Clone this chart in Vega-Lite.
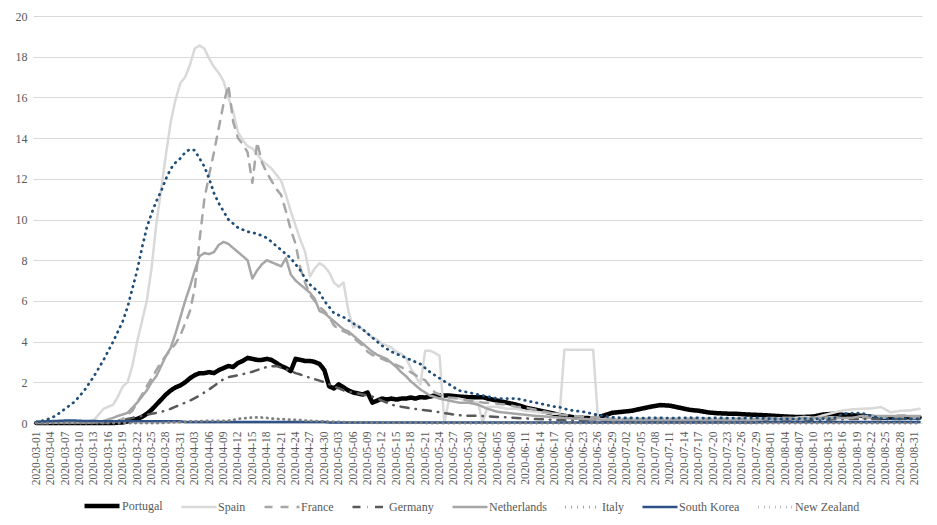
{
  "$schema": "https://vega.github.io/schema/vega-lite/v6.json",
  "autosize": "none",
  "width": 889,
  "height": 407,
  "padding": {"left": 33, "top": 16, "right": 15, "bottom": 102},
  "background": "white",
  "config": {
    "font": "Times New Roman",
    "axis": {"labelFont": "Times New Roman"},
    "legend": {"labelFont": "Times New Roman"},
    "view": {"stroke": null}
  },
  "data": {
    "values": [
      {"d":"2020-03-01","Portugal":0,"Spain":0,"France":0.02,"Germany":0.02,"Netherlands":0.02,"Italy":0.05,"South Korea":0.05,"New Zealand":0},
      {"d":"2020-03-03","Portugal":0,"Spain":0,"France":0.02,"Germany":0.02,"Netherlands":0.02,"Italy":0.15,"South Korea":0.08,"New Zealand":0},
      {"d":"2020-03-05","Portugal":0,"Spain":0.02,"France":0.02,"Germany":0.02,"Netherlands":0.02,"Italy":0.35,"South Korea":0.1,"New Zealand":0},
      {"d":"2020-03-07","Portugal":0,"Spain":0.03,"France":0.02,"Germany":0.02,"Netherlands":0.02,"Italy":0.7,"South Korea":0.12,"New Zealand":0},
      {"d":"2020-03-09","Portugal":0,"Spain":0.05,"France":0.02,"Germany":0.02,"Netherlands":0.02,"Italy":1.05,"South Korea":0.12,"New Zealand":0},
      {"d":"2020-03-11","Portugal":0,"Spain":0.05,"France":0.02,"Germany":0.02,"Netherlands":0.02,"Italy":1.6,"South Korea":0.1,"New Zealand":0},
      {"d":"2020-03-13","Portugal":0,"Spain":0.15,"France":0.02,"Germany":0.02,"Netherlands":0.02,"Italy":2.3,"South Korea":0.1,"New Zealand":0},
      {"d":"2020-03-15","Portugal":0,"Spain":0.7,"France":0.02,"Germany":0.02,"Netherlands":0.1,"Italy":3.1,"South Korea":0.08,"New Zealand":0},
      {"d":"2020-03-17","Portugal":0,"Spain":0.9,"France":0.02,"Germany":0.05,"Netherlands":0.25,"Italy":4.0,"South Korea":0.08,"New Zealand":0},
      {"d":"2020-03-18","Portugal":0.02,"Spain":1.3,"France":0.1,"Germany":0.1,"Netherlands":0.35,"Italy":4.5,"South Korea":0.08,"New Zealand":0},
      {"d":"2020-03-19","Portugal":0.03,"Spain":1.8,"France":0.2,"Germany":0.15,"Netherlands":0.42,"Italy":5.0,"South Korea":0.08,"New Zealand":0},
      {"d":"2020-03-20","Portugal":0.08,"Spain":2.0,"France":0.4,"Germany":0.2,"Netherlands":0.5,"Italy":5.7,"South Korea":0.08,"New Zealand":0},
      {"d":"2020-03-21","Portugal":0.15,"Spain":2.8,"France":0.6,"Germany":0.25,"Netherlands":0.75,"Italy":6.6,"South Korea":0.08,"New Zealand":0},
      {"d":"2020-03-22","Portugal":0.2,"Spain":4.0,"France":1.0,"Germany":0.3,"Netherlands":1.0,"Italy":7.5,"South Korea":0.08,"New Zealand":0},
      {"d":"2020-03-23","Portugal":0.3,"Spain":5.0,"France":1.4,"Germany":0.35,"Netherlands":1.3,"Italy":8.6,"South Korea":0.08,"New Zealand":0},
      {"d":"2020-03-24","Portugal":0.45,"Spain":6.0,"France":1.8,"Germany":0.4,"Netherlands":1.6,"Italy":9.6,"South Korea":0.08,"New Zealand":0},
      {"d":"2020-03-25","Portugal":0.65,"Spain":7.6,"France":2.2,"Germany":0.45,"Netherlands":2.0,"Italy":10.3,"South Korea":0.08,"New Zealand":0},
      {"d":"2020-03-26","Portugal":0.9,"Spain":9.8,"France":2.6,"Germany":0.5,"Netherlands":2.3,"Italy":10.9,"South Korea":0.08,"New Zealand":0},
      {"d":"2020-03-27","Portugal":1.15,"Spain":11.5,"France":3.0,"Germany":0.55,"Netherlands":2.8,"Italy":11.4,"South Korea":0.08,"New Zealand":0},
      {"d":"2020-03-28","Portugal":1.4,"Spain":13.2,"France":3.3,"Germany":0.62,"Netherlands":3.3,"Italy":12.0,"South Korea":0.08,"New Zealand":0.02},
      {"d":"2020-03-29","Portugal":1.6,"Spain":14.8,"France":3.6,"Germany":0.7,"Netherlands":3.7,"Italy":12.5,"South Korea":0.08,"New Zealand":0.03},
      {"d":"2020-03-30","Portugal":1.75,"Spain":15.9,"France":3.9,"Germany":0.8,"Netherlands":4.4,"Italy":12.8,"South Korea":0.08,"New Zealand":0.04},
      {"d":"2020-03-31","Portugal":1.85,"Spain":16.7,"France":4.3,"Germany":0.9,"Netherlands":5.2,"Italy":13.0,"South Korea":0.08,"New Zealand":0.05},
      {"d":"2020-04-01","Portugal":2.0,"Spain":17.0,"France":4.9,"Germany":1.0,"Netherlands":6.0,"Italy":13.3,"South Korea":0.05,"New Zealand":0.06},
      {"d":"2020-04-02","Portugal":2.2,"Spain":17.6,"France":5.5,"Germany":1.1,"Netherlands":6.7,"Italy":13.45,"South Korea":0.05,"New Zealand":0.08},
      {"d":"2020-04-03","Portugal":2.35,"Spain":18.4,"France":6.6,"Germany":1.22,"Netherlands":7.5,"Italy":13.4,"South Korea":0.05,"New Zealand":0.08},
      {"d":"2020-04-04","Portugal":2.45,"Spain":18.55,"France":9.0,"Germany":1.35,"Netherlands":8.2,"Italy":13.0,"South Korea":0.05,"New Zealand":0.09},
      {"d":"2020-04-05","Portugal":2.45,"Spain":18.4,"France":11.0,"Germany":1.5,"Netherlands":8.35,"Italy":12.6,"South Korea":0.05,"New Zealand":0.1},
      {"d":"2020-04-06","Portugal":2.5,"Spain":17.9,"France":12.2,"Germany":1.65,"Netherlands":8.3,"Italy":12.0,"South Korea":0.05,"New Zealand":0.1},
      {"d":"2020-04-07","Portugal":2.45,"Spain":17.5,"France":13.3,"Germany":1.82,"Netherlands":8.4,"Italy":11.3,"South Korea":0.05,"New Zealand":0.1},
      {"d":"2020-04-08","Portugal":2.6,"Spain":17.2,"France":14.5,"Germany":2.0,"Netherlands":8.75,"Italy":10.8,"South Korea":0.05,"New Zealand":0.1},
      {"d":"2020-04-09","Portugal":2.7,"Spain":16.8,"France":15.7,"Germany":2.15,"Netherlands":8.9,"Italy":10.4,"South Korea":0.05,"New Zealand":0.1},
      {"d":"2020-04-10","Portugal":2.8,"Spain":16.0,"France":16.6,"Germany":2.25,"Netherlands":8.8,"Italy":10.0,"South Korea":0.05,"New Zealand":0.12},
      {"d":"2020-04-11","Portugal":2.75,"Spain":15.3,"France":14.8,"Germany":2.3,"Netherlands":8.6,"Italy":9.8,"South Korea":0.05,"New Zealand":0.15},
      {"d":"2020-04-12","Portugal":2.95,"Spain":14.3,"France":14.0,"Germany":2.35,"Netherlands":8.4,"Italy":9.6,"South Korea":0.05,"New Zealand":0.2},
      {"d":"2020-04-13","Portugal":3.05,"Spain":13.9,"France":13.7,"Germany":2.4,"Netherlands":8.2,"Italy":9.5,"South Korea":0.05,"New Zealand":0.23},
      {"d":"2020-04-14","Portugal":3.2,"Spain":13.6,"France":13.3,"Germany":2.45,"Netherlands":8.0,"Italy":9.4,"South Korea":0.05,"New Zealand":0.25},
      {"d":"2020-04-15","Portugal":3.15,"Spain":13.5,"France":11.8,"Germany":2.52,"Netherlands":7.1,"Italy":9.35,"South Korea":0.05,"New Zealand":0.27},
      {"d":"2020-04-16","Portugal":3.1,"Spain":13.2,"France":13.8,"Germany":2.6,"Netherlands":7.5,"Italy":9.3,"South Korea":0.05,"New Zealand":0.28},
      {"d":"2020-04-17","Portugal":3.1,"Spain":12.9,"France":12.8,"Germany":2.68,"Netherlands":7.8,"Italy":9.2,"South Korea":0.05,"New Zealand":0.27},
      {"d":"2020-04-18","Portugal":3.15,"Spain":12.7,"France":12.3,"Germany":2.75,"Netherlands":8.0,"Italy":9.1,"South Korea":0.05,"New Zealand":0.25},
      {"d":"2020-04-19","Portugal":3.1,"Spain":12.5,"France":11.9,"Germany":2.78,"Netherlands":7.9,"Italy":8.9,"South Korea":0.05,"New Zealand":0.22},
      {"d":"2020-04-20","Portugal":2.95,"Spain":12.2,"France":11.5,"Germany":2.8,"Netherlands":7.8,"Italy":8.7,"South Korea":0.05,"New Zealand":0.2},
      {"d":"2020-04-21","Portugal":2.8,"Spain":11.9,"France":11.2,"Germany":2.72,"Netherlands":7.7,"Italy":8.5,"South Korea":0.05,"New Zealand":0.19},
      {"d":"2020-04-22","Portugal":2.7,"Spain":11.2,"France":10.4,"Germany":2.65,"Netherlands":8.1,"Italy":8.3,"South Korea":0.05,"New Zealand":0.18},
      {"d":"2020-04-23","Portugal":2.55,"Spain":10.4,"France":9.5,"Germany":2.55,"Netherlands":7.3,"Italy":8.1,"South Korea":0.05,"New Zealand":0.16},
      {"d":"2020-04-24","Portugal":3.15,"Spain":9.7,"France":8.8,"Germany":2.45,"Netherlands":7.0,"Italy":7.8,"South Korea":0.05,"New Zealand":0.15},
      {"d":"2020-04-25","Portugal":3.1,"Spain":9.0,"France":7.6,"Germany":2.38,"Netherlands":6.8,"Italy":7.5,"South Korea":0.05,"New Zealand":0.14},
      {"d":"2020-04-26","Portugal":3.05,"Spain":8.4,"France":6.9,"Germany":2.3,"Netherlands":6.6,"Italy":7.1,"South Korea":0.05,"New Zealand":0.12},
      {"d":"2020-04-27","Portugal":3.05,"Spain":7.2,"France":6.3,"Germany":2.22,"Netherlands":6.4,"Italy":6.8,"South Korea":0.05,"New Zealand":0.11},
      {"d":"2020-04-28","Portugal":3.0,"Spain":7.6,"France":6.0,"Germany":2.15,"Netherlands":6.1,"Italy":6.6,"South Korea":0.05,"New Zealand":0.1},
      {"d":"2020-04-29","Portugal":2.9,"Spain":7.85,"France":5.7,"Germany":2.08,"Netherlands":5.5,"Italy":6.4,"South Korea":0.05,"New Zealand":0.09},
      {"d":"2020-04-30","Portugal":2.6,"Spain":7.7,"France":5.5,"Germany":2.0,"Netherlands":5.4,"Italy":6.0,"South Korea":0.05,"New Zealand":0.08},
      {"d":"2020-05-01","Portugal":1.8,"Spain":7.4,"France":5.2,"Germany":1.9,"Netherlands":5.2,"Italy":5.7,"South Korea":0.03,"New Zealand":0.07},
      {"d":"2020-05-02","Portugal":1.7,"Spain":6.9,"France":4.8,"Germany":1.8,"Netherlands":5.0,"Italy":5.4,"South Korea":0.03,"New Zealand":0.06},
      {"d":"2020-05-03","Portugal":1.9,"Spain":6.7,"France":4.6,"Germany":1.7,"Netherlands":4.8,"Italy":5.3,"South Korea":0.03,"New Zealand":0.05},
      {"d":"2020-05-04","Portugal":1.75,"Spain":6.9,"France":4.5,"Germany":1.6,"Netherlands":4.6,"Italy":5.2,"South Korea":0.03,"New Zealand":0.04},
      {"d":"2020-05-05","Portugal":1.6,"Spain":5.5,"France":4.4,"Germany":1.55,"Netherlands":4.5,"Italy":5.05,"South Korea":0.03,"New Zealand":0.03},
      {"d":"2020-05-06","Portugal":1.5,"Spain":4.7,"France":4.2,"Germany":1.5,"Netherlands":4.3,"Italy":4.9,"South Korea":0.03,"New Zealand":0.03},
      {"d":"2020-05-07","Portugal":1.45,"Spain":4.8,"France":4.0,"Germany":1.45,"Netherlands":4.1,"Italy":4.75,"South Korea":0.03,"New Zealand":0.02},
      {"d":"2020-05-08","Portugal":1.4,"Spain":4.6,"France":3.8,"Germany":1.4,"Netherlands":3.9,"Italy":4.6,"South Korea":0.03,"New Zealand":0.02},
      {"d":"2020-05-09","Portugal":1.5,"Spain":4.4,"France":3.5,"Germany":1.35,"Netherlands":3.7,"Italy":4.4,"South Korea":0.03,"New Zealand":0.02},
      {"d":"2020-05-10","Portugal":1.0,"Spain":4.2,"France":3.35,"Germany":1.3,"Netherlands":3.5,"Italy":4.2,"South Korea":0.03,"New Zealand":0.01},
      {"d":"2020-05-11","Portugal":1.1,"Spain":4.1,"France":3.25,"Germany":1.2,"Netherlands":3.35,"Italy":4.0,"South Korea":0.03,"New Zealand":0.01},
      {"d":"2020-05-12","Portugal":1.2,"Spain":3.9,"France":3.15,"Germany":1.1,"Netherlands":3.25,"Italy":3.8,"South Korea":0.03,"New Zealand":0.01},
      {"d":"2020-05-13","Portugal":1.15,"Spain":3.8,"France":3.05,"Germany":1.0,"Netherlands":3.15,"Italy":3.65,"South Korea":0.03,"New Zealand":0.01},
      {"d":"2020-05-14","Portugal":1.2,"Spain":3.7,"France":3.0,"Germany":0.9,"Netherlands":2.95,"Italy":3.5,"South Korea":0.03,"New Zealand":0.01},
      {"d":"2020-05-15","Portugal":1.15,"Spain":3.5,"France":2.85,"Germany":0.85,"Netherlands":2.75,"Italy":3.4,"South Korea":0.03,"New Zealand":0.01},
      {"d":"2020-05-16","Portugal":1.2,"Spain":3.4,"France":2.75,"Germany":0.8,"Netherlands":2.5,"Italy":3.3,"South Korea":0.03,"New Zealand":0.01},
      {"d":"2020-05-17","Portugal":1.2,"Spain":3.2,"France":2.6,"Germany":0.76,"Netherlands":2.3,"Italy":3.2,"South Korea":0.03,"New Zealand":0.01},
      {"d":"2020-05-18","Portugal":1.25,"Spain":2.7,"France":2.5,"Germany":0.72,"Netherlands":2.05,"Italy":3.1,"South Korea":0.03,"New Zealand":0.01},
      {"d":"2020-05-19","Portugal":1.2,"Spain":2.3,"France":2.35,"Germany":0.69,"Netherlands":1.85,"Italy":3.0,"South Korea":0.03,"New Zealand":0.01},
      {"d":"2020-05-20","Portugal":1.27,"Spain":1.9,"France":2.2,"Germany":0.66,"Netherlands":1.65,"Italy":2.9,"South Korea":0.03,"New Zealand":0.01},
      {"d":"2020-05-21","Portugal":1.25,"Spain":3.55,"France":2.1,"Germany":0.63,"Netherlands":1.5,"Italy":2.7,"South Korea":0.03,"New Zealand":0},
      {"d":"2020-05-22","Portugal":1.3,"Spain":3.55,"France":1.8,"Germany":0.6,"Netherlands":1.35,"Italy":2.5,"South Korea":0.03,"New Zealand":0},
      {"d":"2020-05-23","Portugal":1.35,"Spain":3.45,"France":1.5,"Germany":0.56,"Netherlands":1.28,"Italy":2.35,"South Korea":0.03,"New Zealand":0},
      {"d":"2020-05-24","Portugal":1.37,"Spain":3.3,"France":1.4,"Germany":0.53,"Netherlands":1.2,"Italy":2.2,"South Korea":0.03,"New Zealand":0},
      {"d":"2020-05-25","Portugal":1.35,"Spain":0,"France":1.3,"Germany":0.49,"Netherlands":1.15,"Italy":2.05,"South Korea":0.03,"New Zealand":0},
      {"d":"2020-05-26","Portugal":1.35,"Spain":1.2,"France":1.25,"Germany":0.45,"Netherlands":1.1,"Italy":1.9,"South Korea":0.03,"New Zealand":0},
      {"d":"2020-05-28","Portugal":1.3,"Spain":1.2,"France":1.2,"Germany":0.38,"Netherlands":1.0,"Italy":1.6,"South Korea":0.03,"New Zealand":0},
      {"d":"2020-05-30","Portugal":1.27,"Spain":1.1,"France":1.1,"Germany":0.36,"Netherlands":1.0,"Italy":1.5,"South Korea":0.03,"New Zealand":0},
      {"d":"2020-06-01","Portugal":1.27,"Spain":1.0,"France":1.05,"Germany":0.35,"Netherlands":0.9,"Italy":1.4,"South Korea":0.03,"New Zealand":0},
      {"d":"2020-06-02","Portugal":1.27,"Spain":0,"France":1.0,"Germany":0.34,"Netherlands":0.8,"Italy":1.35,"South Korea":0.03,"New Zealand":0},
      {"d":"2020-06-03","Portugal":1.2,"Spain":0.8,"France":1.0,"Germany":0.33,"Netherlands":0.7,"Italy":1.3,"South Korea":0.03,"New Zealand":0},
      {"d":"2020-06-05","Portugal":1.1,"Spain":0.8,"France":0.95,"Germany":0.3,"Netherlands":0.55,"Italy":1.2,"South Korea":0.03,"New Zealand":0},
      {"d":"2020-06-07","Portugal":1.0,"Spain":0.7,"France":0.9,"Germany":0.28,"Netherlands":0.5,"Italy":1.2,"South Korea":0.03,"New Zealand":0},
      {"d":"2020-06-09","Portugal":0.9,"Spain":0.7,"France":0.8,"Germany":0.25,"Netherlands":0.45,"Italy":1.2,"South Korea":0.03,"New Zealand":0},
      {"d":"2020-06-11","Portugal":0.75,"Spain":0.6,"France":0.75,"Germany":0.22,"Netherlands":0.4,"Italy":1.1,"South Korea":0.03,"New Zealand":0},
      {"d":"2020-06-13","Portugal":0.65,"Spain":0.55,"France":0.65,"Germany":0.2,"Netherlands":0.35,"Italy":1.0,"South Korea":0.03,"New Zealand":0},
      {"d":"2020-06-15","Portugal":0.55,"Spain":0.5,"France":0.55,"Germany":0.18,"Netherlands":0.32,"Italy":0.9,"South Korea":0.03,"New Zealand":0},
      {"d":"2020-06-17","Portugal":0.45,"Spain":0.45,"France":0.45,"Germany":0.15,"Netherlands":0.28,"Italy":0.8,"South Korea":0.03,"New Zealand":0},
      {"d":"2020-06-18","Portugal":0.4,"Spain":0.45,"France":0.42,"Germany":0.15,"Netherlands":0.27,"Italy":0.78,"South Korea":0.03,"New Zealand":0},
      {"d":"2020-06-19","Portugal":0.35,"Spain":3.6,"France":0.4,"Germany":0.14,"Netherlands":0.25,"Italy":0.7,"South Korea":0.03,"New Zealand":0},
      {"d":"2020-06-21","Portugal":0.28,"Spain":3.6,"France":0.35,"Germany":0.13,"Netherlands":0.22,"Italy":0.6,"South Korea":0.03,"New Zealand":0},
      {"d":"2020-06-23","Portugal":0.25,"Spain":3.6,"France":0.3,"Germany":0.12,"Netherlands":0.2,"Italy":0.55,"South Korea":0.03,"New Zealand":0},
      {"d":"2020-06-25","Portugal":0.23,"Spain":3.6,"France":0.28,"Germany":0.12,"Netherlands":0.18,"Italy":0.45,"South Korea":0.03,"New Zealand":0},
      {"d":"2020-06-26","Portugal":0.3,"Spain":0.2,"France":0.27,"Germany":0.1,"Netherlands":0.17,"Italy":0.4,"South Korea":0.03,"New Zealand":0},
      {"d":"2020-06-27","Portugal":0.35,"Spain":0.18,"France":0.25,"Germany":0.1,"Netherlands":0.16,"Italy":0.35,"South Korea":0.03,"New Zealand":0},
      {"d":"2020-06-29","Portugal":0.5,"Spain":0.2,"France":0.2,"Germany":0.1,"Netherlands":0.15,"Italy":0.28,"South Korea":0.03,"New Zealand":0},
      {"d":"2020-07-01","Portugal":0.55,"Spain":0.2,"France":0.2,"Germany":0.1,"Netherlands":0.12,"Italy":0.25,"South Korea":0.03,"New Zealand":0},
      {"d":"2020-07-03","Portugal":0.6,"Spain":0.22,"France":0.2,"Germany":0.1,"Netherlands":0.12,"Italy":0.25,"South Korea":0.03,"New Zealand":0},
      {"d":"2020-07-05","Portugal":0.7,"Spain":0.2,"France":0.2,"Germany":0.1,"Netherlands":0.12,"Italy":0.24,"South Korea":0.03,"New Zealand":0},
      {"d":"2020-07-07","Portugal":0.8,"Spain":0.22,"France":0.2,"Germany":0.1,"Netherlands":0.12,"Italy":0.25,"South Korea":0.03,"New Zealand":0},
      {"d":"2020-07-09","Portugal":0.88,"Spain":0.25,"France":0.2,"Germany":0.1,"Netherlands":0.12,"Italy":0.25,"South Korea":0.03,"New Zealand":0},
      {"d":"2020-07-11","Portugal":0.85,"Spain":0.22,"France":0.2,"Germany":0.1,"Netherlands":0.12,"Italy":0.24,"South Korea":0.03,"New Zealand":0},
      {"d":"2020-07-13","Portugal":0.75,"Spain":0.2,"France":0.2,"Germany":0.1,"Netherlands":0.12,"Italy":0.25,"South Korea":0.03,"New Zealand":0},
      {"d":"2020-07-15","Portugal":0.65,"Spain":0.22,"France":0.2,"Germany":0.1,"Netherlands":0.12,"Italy":0.26,"South Korea":0.03,"New Zealand":0},
      {"d":"2020-07-17","Portugal":0.6,"Spain":0.25,"France":0.2,"Germany":0.1,"Netherlands":0.12,"Italy":0.25,"South Korea":0.03,"New Zealand":0},
      {"d":"2020-07-19","Portugal":0.52,"Spain":0.22,"France":0.2,"Germany":0.1,"Netherlands":0.12,"Italy":0.24,"South Korea":0.03,"New Zealand":0},
      {"d":"2020-07-21","Portugal":0.48,"Spain":0.2,"France":0.2,"Germany":0.1,"Netherlands":0.12,"Italy":0.25,"South Korea":0.03,"New Zealand":0},
      {"d":"2020-07-23","Portugal":0.46,"Spain":0.22,"France":0.2,"Germany":0.1,"Netherlands":0.12,"Italy":0.24,"South Korea":0.03,"New Zealand":0},
      {"d":"2020-07-25","Portugal":0.45,"Spain":0.25,"France":0.2,"Germany":0.1,"Netherlands":0.12,"Italy":0.23,"South Korea":0.03,"New Zealand":0},
      {"d":"2020-07-27","Portugal":0.42,"Spain":0.22,"France":0.2,"Germany":0.1,"Netherlands":0.12,"Italy":0.24,"South Korea":0.03,"New Zealand":0},
      {"d":"2020-07-29","Portugal":0.4,"Spain":0.2,"France":0.2,"Germany":0.1,"Netherlands":0.12,"Italy":0.25,"South Korea":0.03,"New Zealand":0},
      {"d":"2020-07-31","Portugal":0.38,"Spain":0.2,"France":0.25,"Germany":0.12,"Netherlands":0.18,"Italy":0.22,"South Korea":0.05,"New Zealand":0},
      {"d":"2020-08-02","Portugal":0.35,"Spain":0.22,"France":0.25,"Germany":0.12,"Netherlands":0.18,"Italy":0.2,"South Korea":0.05,"New Zealand":0},
      {"d":"2020-08-04","Portugal":0.32,"Spain":0.25,"France":0.25,"Germany":0.12,"Netherlands":0.18,"Italy":0.2,"South Korea":0.05,"New Zealand":0},
      {"d":"2020-08-06","Portugal":0.3,"Spain":0.25,"France":0.25,"Germany":0.12,"Netherlands":0.18,"Italy":0.2,"South Korea":0.05,"New Zealand":0},
      {"d":"2020-08-08","Portugal":0.3,"Spain":0.3,"France":0.25,"Germany":0.12,"Netherlands":0.18,"Italy":0.22,"South Korea":0.05,"New Zealand":0},
      {"d":"2020-08-10","Portugal":0.32,"Spain":0.25,"France":0.25,"Germany":0.15,"Netherlands":0.25,"Italy":0.2,"South Korea":0.05,"New Zealand":0},
      {"d":"2020-08-12","Portugal":0.42,"Spain":0.38,"France":0.25,"Germany":0.15,"Netherlands":0.25,"Italy":0.22,"South Korea":0.05,"New Zealand":0},
      {"d":"2020-08-14","Portugal":0.45,"Spain":0.5,"France":0.25,"Germany":0.18,"Netherlands":0.25,"Italy":0.22,"South Korea":0.05,"New Zealand":0},
      {"d":"2020-08-16","Portugal":0.4,"Spain":0.62,"France":0.25,"Germany":0.18,"Netherlands":0.25,"Italy":0.45,"South Korea":0.05,"New Zealand":0},
      {"d":"2020-08-18","Portugal":0.38,"Spain":0.67,"France":0.25,"Germany":0.2,"Netherlands":0.25,"Italy":0.48,"South Korea":0.05,"New Zealand":0},
      {"d":"2020-08-20","Portugal":0.35,"Spain":0.7,"France":0.25,"Germany":0.2,"Netherlands":0.35,"Italy":0.48,"South Korea":0.05,"New Zealand":0},
      {"d":"2020-08-22","Portugal":0.3,"Spain":0.72,"France":0.25,"Germany":0.2,"Netherlands":0.35,"Italy":0.35,"South Korea":0.05,"New Zealand":0},
      {"d":"2020-08-24","Portugal":0.25,"Spain":0.78,"France":0.25,"Germany":0.2,"Netherlands":0.35,"Italy":0.22,"South Korea":0.05,"New Zealand":0},
      {"d":"2020-08-26","Portugal":0.27,"Spain":0.52,"France":0.25,"Germany":0.2,"Netherlands":0.35,"Italy":0.2,"South Korea":0.05,"New Zealand":0},
      {"d":"2020-08-28","Portugal":0.3,"Spain":0.6,"France":0.25,"Germany":0.2,"Netherlands":0.35,"Italy":0.2,"South Korea":0.05,"New Zealand":0},
      {"d":"2020-08-30","Portugal":0.28,"Spain":0.62,"France":0.25,"Germany":0.2,"Netherlands":0.35,"Italy":0.2,"South Korea":0.05,"New Zealand":0},
      {"d":"2020-09-01","Portugal":0.27,"Spain":0.7,"France":0.25,"Germany":0.2,"Netherlands":0.35,"Italy":0.2,"South Korea":0.05,"New Zealand":0}
    ]
  },
  "transform": [
    {"fold": ["Portugal", "Spain", "France", "Germany", "Netherlands", "Italy", "South Korea", "New Zealand"], "as": ["country", "value"]}
  ],
  "mark": {"type": "line", "strokeCap": "round", "strokeJoin": "round"},
  "encoding": {
    "x": {
      "field": "d",
      "type": "temporal",
      "scale": {"type": "utc", "domain": [1582960320000, 1598961600000]},
      "axis": {
        "title": null,
        "format": "%Y-%m-%d",
        "values": [1583020800000,1583280000000,1583539200000,1583798400000,1584057600000,1584316800000,1584576000000,1584835200000,1585094400000,1585353600000,1585612800000,1585872000000,1586131200000,1586390400000,1586649600000,1586908800000,1587168000000,1587427200000,1587686400000,1587945600000,1588204800000,1588464000000,1588723200000,1588982400000,1589241600000,1589500800000,1589760000000,1590019200000,1590278400000,1590537600000,1590796800000,1591056000000,1591315200000,1591574400000,1591833600000,1592092800000,1592352000000,1592611200000,1592870400000,1593129600000,1593388800000,1593648000000,1593907200000,1594166400000,1594425600000,1594684800000,1594944000000,1595203200000,1595462400000,1595721600000,1595980800000,1596240000000,1596499200000,1596758400000,1597017600000,1597276800000,1597536000000,1597795200000,1598054400000,1598313600000,1598572800000,1598832000000],
        "labelAngle": -90,
        "labelAlign": "right",
        "labelBaseline": "middle",
        "labelFont": "Times New Roman",
        "labelFontSize": 11.5,
        "labelColor": "#595959",
        "labelPadding": 8,
        "labelOverlap": false,
        "labelFlush": false,
        "labelBound": false,
        "ticks": false,
        "grid": false,
        "domain": true,
        "domainColor": "#D9D9D9",
        "domainWidth": 1
      }
    },
    "y": {
      "field": "value",
      "type": "quantitative",
      "scale": {"domain": [0, 20], "nice": false, "zero": true},
      "axis": {
        "title": null,
        "values": [0, 2, 4, 6, 8, 10, 12, 14, 16, 18, 20],
        "grid": true,
        "gridColor": "#D9D9D9",
        "gridWidth": 1,
        "domain": false,
        "ticks": false,
        "labelFont": "Times New Roman",
        "labelFontSize": 12,
        "labelColor": "#595959",
        "labelPadding": 6
      }
    },
    "color": {
      "field": "country",
      "type": "nominal",
      "scale": {
        "domain": ["Portugal", "Spain", "France", "Germany", "Netherlands", "Italy", "South Korea", "New Zealand"],
        "range": ["#000000", "#D9D9D9", "#A6A6A6", "#595959", "#A6A6A6", "#1F4E79", "#2E5286", "#7F7F7F"]
      },
      "legend": {
        "title": null,
        "orient": "none",
        "legendX": 49,
        "legendY": 470,
        "direction": "horizontal",
        "symbolType": "stroke",
        "symbolSize": 1225,
        "labelFont": "Times New Roman",
        "labelFontSize": 12,
        "labelColor": "#595959",
        "labelOffset": 0,
        "columnPadding": 13
      }
    },
    "strokeDash": {
      "field": "country",
      "type": "nominal",
      "scale": {
        "domain": ["Portugal", "Spain", "France", "Germany", "Netherlands", "Italy", "South Korea", "New Zealand"],
        "range": [[1, 0], [1, 0], [8, 8], [8, 7, 0.5, 7], [1, 0], [0.5, 5.5], [1, 0], [0.5, 5]]
      },
      "legend": null
    },
    "strokeWidth": {
      "field": "country",
      "type": "nominal",
      "scale": {
        "type": "ordinal",
        "domain": ["Portugal", "Spain", "France", "Germany", "Netherlands", "Italy", "South Korea", "New Zealand"],
        "range": [4.5, 2.5, 2.5, 2.5, 2.5, 2.75, 2.5, 2.75]
      },
      "legend": null
    }
  }
}
